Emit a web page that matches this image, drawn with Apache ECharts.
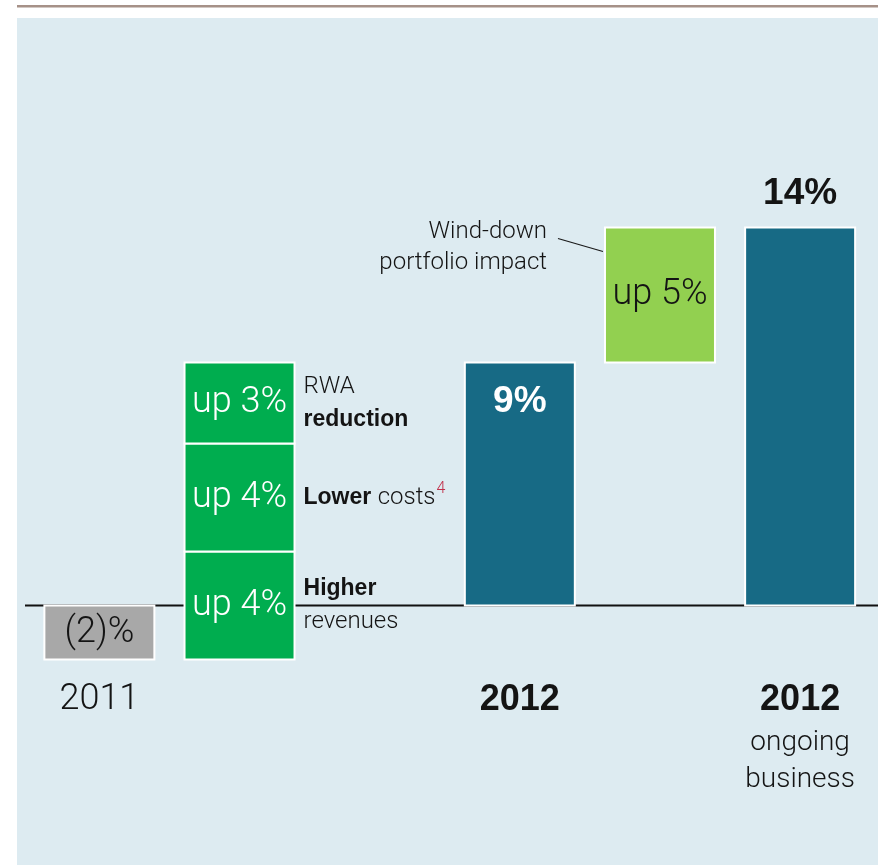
<!DOCTYPE html>
<html>
<head>
<meta charset="utf-8">
<script src="https://cdn.jsdelivr.net/npm/echarts@6/dist/echarts.min.js"></script>
<style>
  html, body { margin: 0; padding: 0; background: #ffffff; }
  #chart { width: 878px; height: 865px; }
</style>
</head>
<body>
<div id="chart"></div>
<script>
// Return on equity bridge: 2011 -> 2012 -> 2012 ongoing business
const slotKeys = ['2011', 'drivers', 'gap', '2012', 'windDown', '2012ongoing'];
const slotLabels = ['{reg|2011}', '', '', '{bold|2012}', '', '{bold|2012}\n{sub|ongoing}\n{sub|business}'];

const value2011 = -2;
const driverValues = [4, 4, 3];
const driverNotes = [
  '{b|Higher}\n{r|revenues}',
  '{b|Lower }{r|costs}{sup|4}',
  '{r|RWA}\n{b|reduction}'
];
const value2012 = 9;
const windDownValue = 5;
const windDownNote = 'Wind-down\nportfolio impact';
const valueOngoing = 14;

const LIGHT = 'Roboto';
const BOLD = '"Liberation Sans", Arial, sans-serif';
const INK = '#141414';

// Build the floating bars (slot, low, high) from the values above
const bars = [];
bars.push({ slot: 0, low: value2011, high: 0, kind: 'start', value: value2011 });
let level = value2011;
driverValues.forEach(function (v, i) {
  bars.push({ slot: 1, low: level, high: level + v, kind: 'driver', value: v, note: driverNotes[i] });
  level += v;
});
bars.push({ slot: 3, low: 0, high: value2012, kind: 'total', value: value2012 });
bars.push({ slot: 4, low: value2012, high: value2012 + windDownValue, kind: 'wind', value: windDownValue });
bars.push({ slot: 5, low: 0, high: valueOngoing, kind: 'totalTop', value: valueOngoing });

const fills = {
  start: '#a8a8a8',
  driver: '#00ad4f',
  total: '#176a85',
  wind: '#92d050',
  totalTop: '#176a85'
};

const BAR_W = 110;

function renderItem(params, api) {
  const b = bars[params.dataIndex];
  const pLow = api.coord([api.value(0), api.value(1)]);
  const pHigh = api.coord([api.value(0), api.value(2)]);
  const cx = pLow[0];
  const top = pHigh[1];
  const bottom = pLow[1];
  const left = cx - BAR_W / 2;
  const right = cx + BAR_W / 2;
  const mid = (top + bottom) / 2;
  const children = [{
    type: 'rect',
    shape: { x: left, y: top, width: BAR_W, height: bottom - top },
    style: { fill: fills[b.kind], stroke: '#ffffff', lineWidth: 2 }
  }];

  if (b.kind === 'start') {
    children.push({
      type: 'text',
      style: { text: '(' + Math.abs(b.value) + ')%', x: cx, y: mid, align: 'center', verticalAlign: 'middle',
               fontFamily: LIGHT, fontWeight: 300, fontSize: 36, fill: INK }
    });
  } else if (b.kind === 'driver') {
    children.push({
      type: 'text',
      style: { text: 'up ' + b.value + '%', x: cx, y: mid, align: 'center', verticalAlign: 'middle',
               fontFamily: LIGHT, fontWeight: 300, fontSize: 36, fill: '#ffffff' }
    });
    children.push({
      type: 'text',
      style: {
        text: b.note, x: right + 9, y: mid, align: 'left', verticalAlign: 'middle',
        fill: INK,
        rich: {
          b: { fontFamily: BOLD, fontWeight: 'bold', fontSize: 23, lineHeight: 33, fill: INK },
          r: { fontFamily: LIGHT, fontWeight: 300, fontSize: 24, lineHeight: 33, fill: INK },
          sup: { fontFamily: LIGHT, fontWeight: 300, fontSize: 16, lineHeight: 33, fill: '#c0304a', verticalAlign: 'top', padding: [0, 0, 10, 1] }
        }
      }
    });
  } else if (b.kind === 'total') {
    children.push({
      type: 'text',
      style: { text: b.value + '%', x: cx, y: top + 39, align: 'center', verticalAlign: 'middle',
               fontFamily: BOLD, fontWeight: 'bold', fontSize: 37, fill: '#ffffff' }
    });
  } else if (b.kind === 'totalTop') {
    children.push({
      type: 'text',
      style: { text: b.value + '%', x: cx, y: top - 34, align: 'center', verticalAlign: 'middle',
               fontFamily: BOLD, fontWeight: 'bold', fontSize: 37, fill: INK }
    });
  } else if (b.kind === 'wind') {
    children.push({
      type: 'text',
      style: { text: 'up ' + b.value + '%', x: cx, y: mid, align: 'center', verticalAlign: 'middle',
               fontFamily: LIGHT, fontWeight: 300, fontSize: 36, fill: INK }
    });
    children.push({
      type: 'text',
      style: { text: windDownNote, x: left - 58, y: top + 20, align: 'right', verticalAlign: 'middle',
               fontFamily: LIGHT, fontWeight: 300, fontSize: 24, lineHeight: 31, fill: INK }
    });
    children.push({
      type: 'line',
      shape: { x1: left - 47, y1: top + 11, x2: left - 2, y2: top + 24 },
      style: { stroke: '#1a1a1a', lineWidth: 1.3 }
    });
  }
  return { type: 'group', children: children };
}

const chart = echarts.init(document.getElementById('chart'), null, { renderer: 'canvas' });

chart.setOption({
  animation: false,
  backgroundColor: '#ffffff',
  grid: { left: 29.3, right: 7.8, top: 119.5, bottom: 178.5 },
  xAxis: {
    type: 'category',
    data: slotKeys,
    axisLine: { show: false },
    axisTick: { show: false },
    splitLine: { show: false },
    axisLabel: {
      interval: 0,
      margin: -11,
      verticalAlign: 'top',
      formatter: function (val, idx) { return slotLabels[idx]; },
      rich: {
        reg: { fontFamily: LIGHT, fontWeight: 300, fontSize: 36, lineHeight: 49, color: INK },
        bold: { fontFamily: BOLD, fontWeight: 'bold', fontSize: 36, lineHeight: 49, color: INK },
        sub: { fontFamily: LIGHT, fontWeight: 300, fontSize: 28, lineHeight: 37, color: INK }
      }
    }
  },
  yAxis: {
    type: 'value',
    show: false,
    min: -3,
    max: 18,
    splitLine: { show: false }
  },
  series: [{
    type: 'custom',
    z: 3,
    renderItem: renderItem,
    encode: { x: 0, y: [1, 2] },
    data: bars.map(function (b) { return [b.slot, b.low, b.high]; })
  }]
});

// Panel, top rule and zero line
const y0 = chart.convertToPixel({ yAxisIndex: 0 }, 0);
chart.setOption({
  graphic: [
    { type: 'rect', z: 0, silent: true, shape: { x: 17, y: 18, width: 861, height: 847 }, style: { fill: '#ddebf1' } },
    { type: 'rect', z: 0, silent: true, shape: { x: 17, y: 5, width: 861, height: 2.5 }, style: { fill: '#a69188' } },
    { type: 'line', z: 1, silent: true, shape: { x1: 25, y1: y0, x2: 878, y2: y0 }, style: { stroke: '#111111', lineWidth: 2 } }
  ]
});
</script>
</body>
</html>
